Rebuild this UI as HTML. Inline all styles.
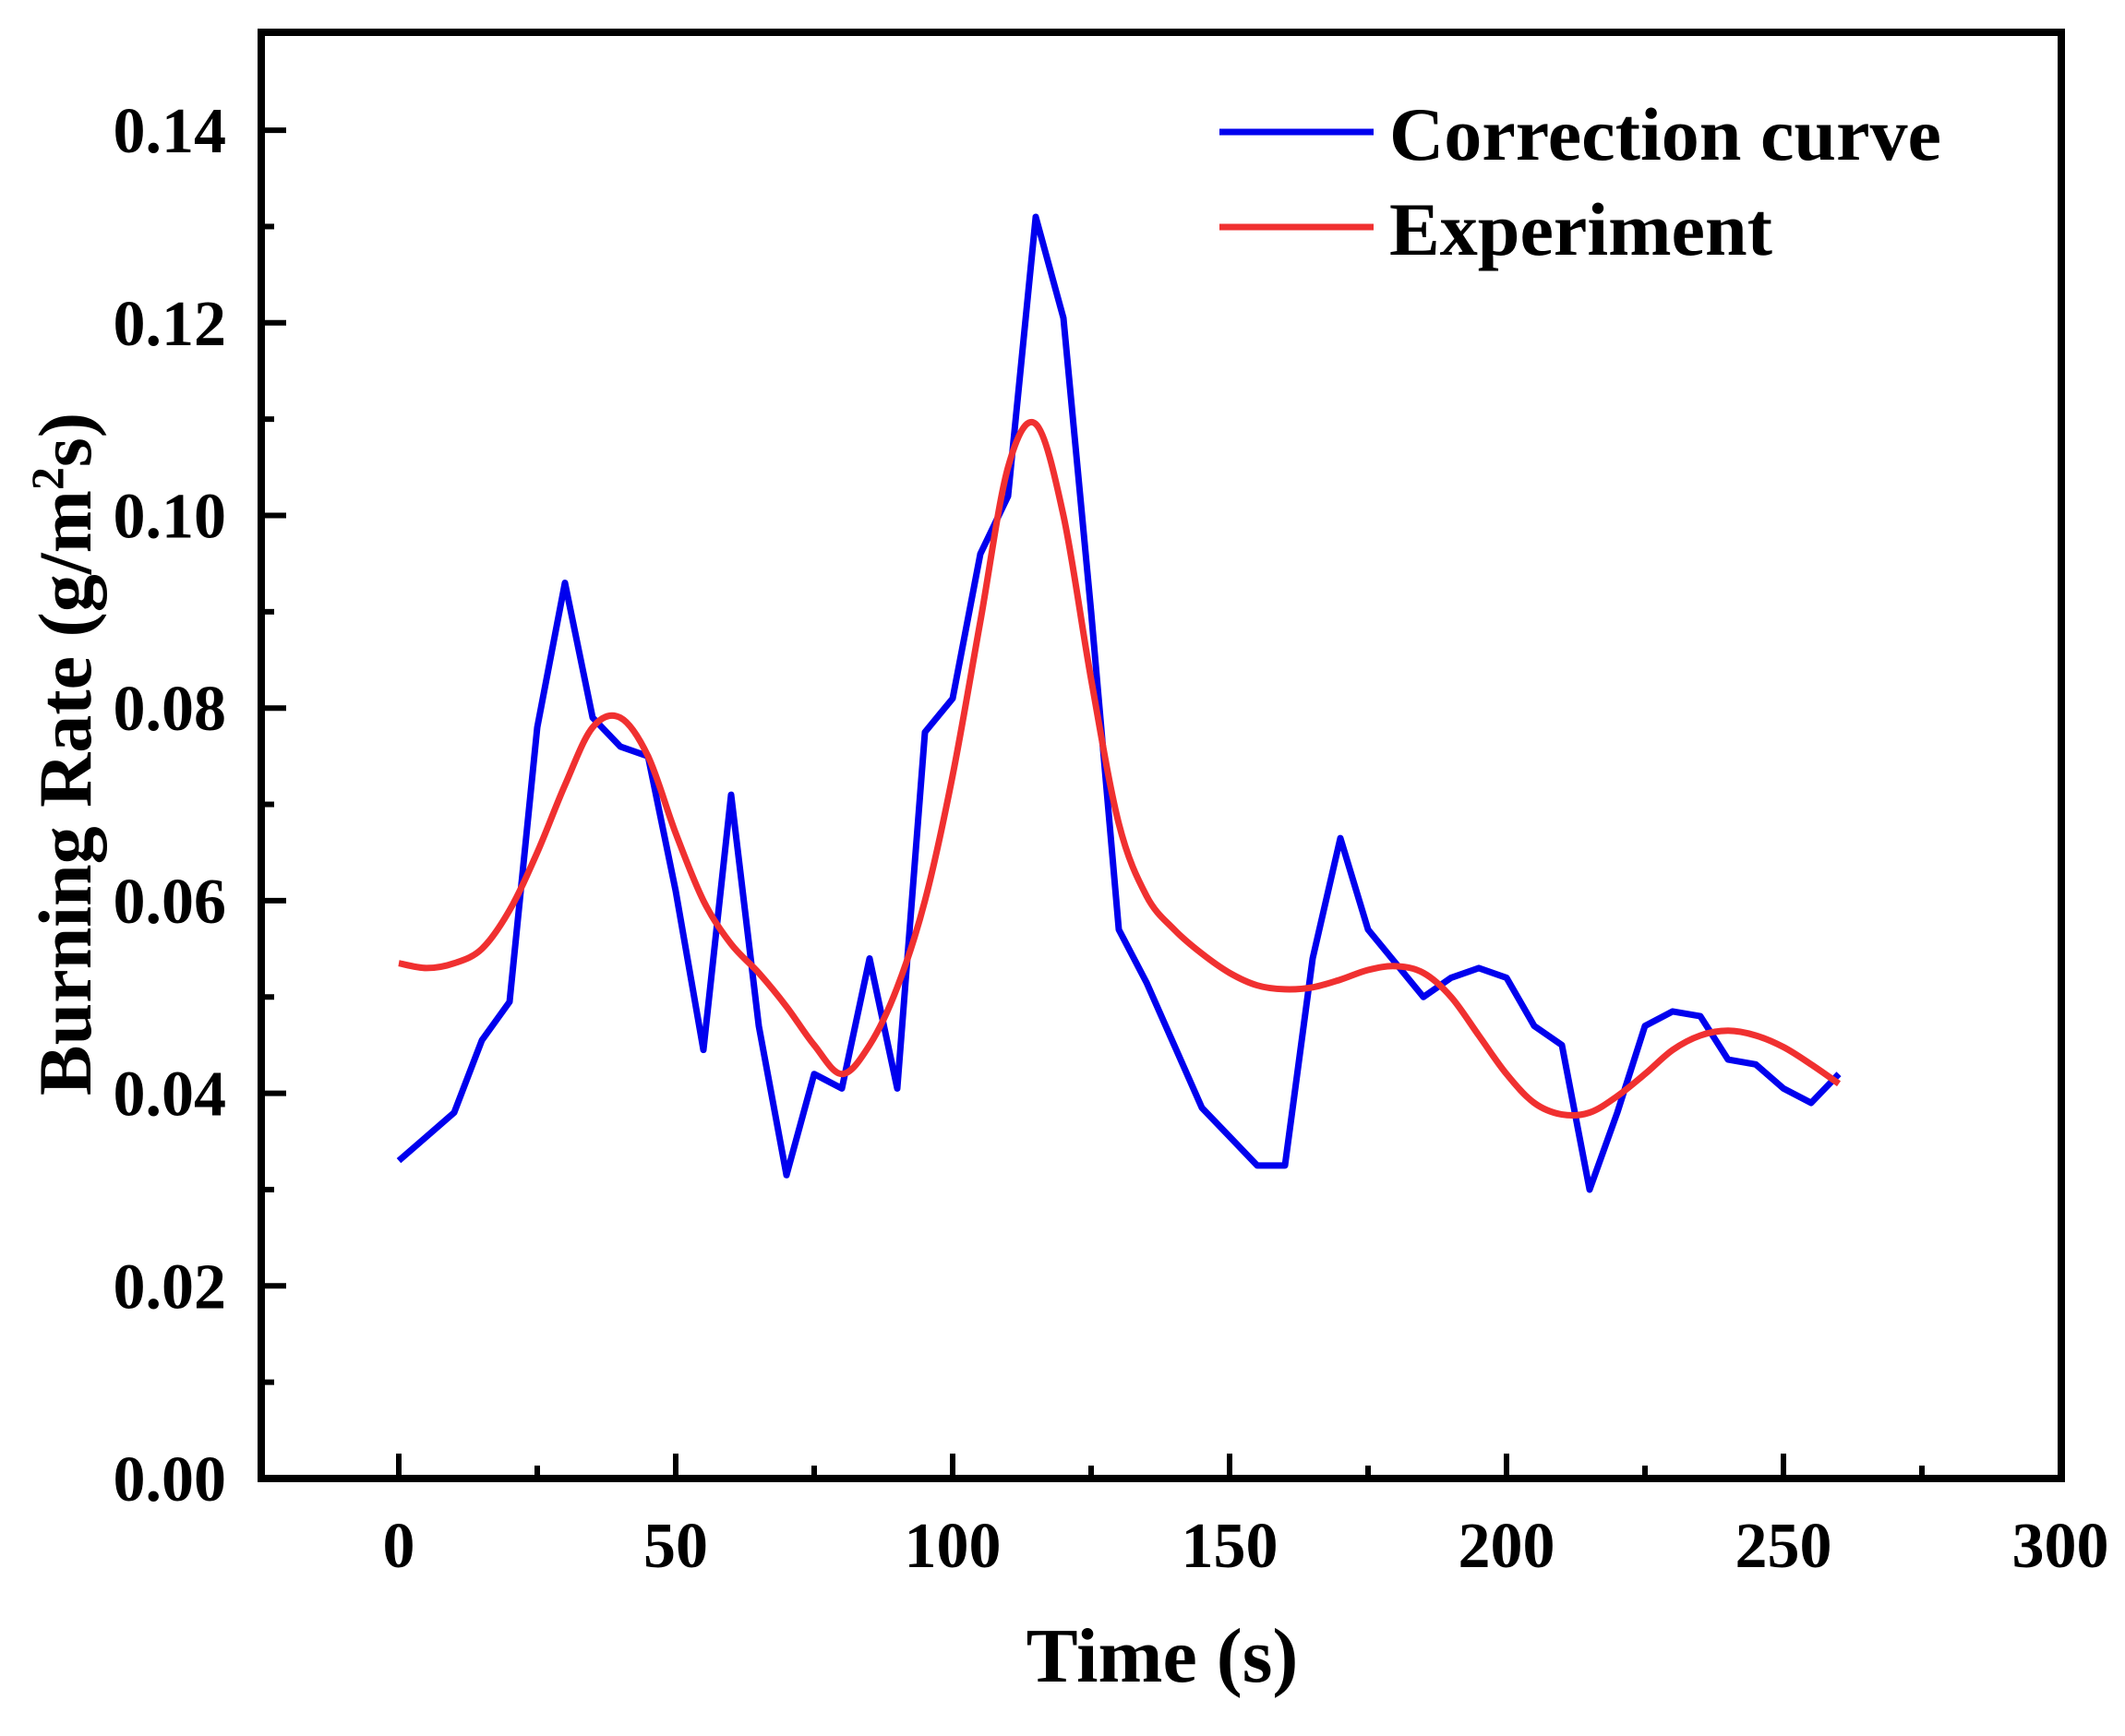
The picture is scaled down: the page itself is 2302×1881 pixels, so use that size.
<!DOCTYPE html>
<html><head><meta charset="utf-8"><style>
html,body{margin:0;padding:0;background:#fff;}
svg{display:block;}
text{font-family:"Liberation Serif",serif;font-weight:bold;fill:#000;}
</style></head><body>
<svg id="s" width="2302" height="1881" viewBox="0 0 2302 1881" xmlns="http://www.w3.org/2000/svg">
<g id="ticks" stroke="#000" stroke-width="6"></g>
<rect x="283" y="35" width="1950" height="1567" fill="none" stroke="#000" stroke-width="8"/>
<g id="labels" font-size="70"></g>
<path id="blue" fill="none" stroke="#0000ee" stroke-width="7" stroke-linejoin="round"/>
<path id="red" fill="none" stroke="#f03030" stroke-width="7" stroke-linejoin="round"/>
<line x1="1321" y1="143" x2="1488" y2="143" stroke="#0000ee" stroke-width="7"/>
<line x1="1321" y1="246" x2="1488" y2="246" stroke="#f03030" stroke-width="7"/>
<text x="1505" y="173" font-size="82" textLength="598" lengthAdjust="spacingAndGlyphs">Correction curve</text>
<text x="1505" y="276" font-size="82" textLength="415" lengthAdjust="spacingAndGlyphs">Experiment</text>
<text x="1259" y="1822" font-size="84" text-anchor="middle">Time (s)</text>
<text transform="translate(98,817) rotate(-90)" font-size="82" text-anchor="middle">Burning Rate (g/m<tspan font-size="50" dy="-30">2</tspan><tspan dy="30">s)</tspan></text>
</svg>
<script>
var X=function(t){return 432+t*6.0;},Y=function(v){return 1602-v/0.02*208.7;};
var ns="http://www.w3.org/2000/svg",tk=document.getElementById('ticks'),lb=document.getElementById('labels');
function ln(x1,y1,x2,y2){var l=document.createElementNS(ns,'line');l.setAttribute('x1',x1);l.setAttribute('y1',y1);l.setAttribute('x2',x2);l.setAttribute('y2',y2);tk.appendChild(l);}
function tx(x,y,s,a){var t=document.createElementNS(ns,'text');t.setAttribute('x',x);t.setAttribute('y',y);t.setAttribute('text-anchor',a);t.textContent=s;lb.appendChild(t);}
for(var t=0;t<=300;t+=25){var major=t%50==0;ln(X(t),1602,X(t),1602-(major?27:14));if(major)tx(X(t),1698,String(t),'middle');}
for(var i=0;i<=14;i++){var v=i*0.01,major=i%2==0;ln(283,Y(v),283+(major?27:14),Y(v));if(major)tx(245,Y(v)+24,v.toFixed(2),'end');}
var b=[0.033,0.0355,0.038,0.0455,0.0495,0.078,0.093,0.079,0.076,0.075,0.061,0.0445,0.071,0.047,0.0315,0.042,0.0405,0.054,0.0405,0.0775,0.081,0.096,0.102,0.131,0.1205,0.09,0.057,0.0515,0.045,0.0385,0.0355,0.0325,0.0325,0.054,0.0665,0.057,0.0535,0.050,0.052,0.053,0.052,0.047,0.045,0.030,0.038,0.047,0.0485,0.048,0.0435,0.043,0.0405,0.039,0.042];
var r=[0.0535,0.053,0.0535,0.055,0.059,0.065,0.072,0.078,0.079,0.075,0.067,0.060,0.0555,0.0525,0.049,0.045,0.042,0.045,0.051,0.060,0.073,0.089,0.105,0.1095,0.1,0.083,0.068,0.0605,0.057,0.0545,0.0525,0.0512,0.0508,0.051,0.0518,0.0528,0.0532,0.0525,0.050,0.046,0.042,0.039,0.0378,0.038,0.0397,0.042,0.0445,0.046,0.0465,0.046,0.0448,0.043,0.041];
var d='';b.forEach(function(v,i){d+=(i?'L':'M')+X(i*5).toFixed(1)+','+Y(v).toFixed(1);});
document.getElementById('blue').setAttribute('d',d);
var p=r.map(function(v,i){return [X(i*5),Y(v)];});
var e='M'+p[0][0]+','+p[0][1];
for(var i=0;i<p.length-1;i++){var p0=p[Math.max(0,i-1)],p1=p[i],p2=p[i+1],p3=p[Math.min(p.length-1,i+2)];
e+='C'+(p1[0]+(p2[0]-p0[0])/6).toFixed(1)+','+(p1[1]+(p2[1]-p0[1])/6).toFixed(1)+' '+(p2[0]-(p3[0]-p1[0])/6).toFixed(1)+','+(p2[1]-(p3[1]-p1[1])/6).toFixed(1)+' '+p2[0].toFixed(1)+','+p2[1].toFixed(1);}
document.getElementById('red').setAttribute('d',e);
</script>
</body></html>
